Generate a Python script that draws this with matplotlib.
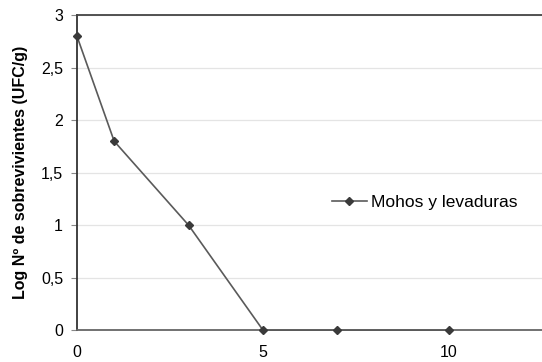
import matplotlib.pyplot as plt

plt.rcParams['font.family'] = ['Liberation Sans', 'DejaVu Sans']

dias = [0, 1, 3, 5, 7, 10]
log_sobrevivientes = [2.8, 1.8, 1.0, 0, 0, 0]
yticks = [0, 0.5, 1, 1.5, 2, 2.5, 3]
ytick_labels = ['0', '0,5', '1', '1,5', '2', '2,5', '3']
xticks = [0, 5, 10]

fig = plt.figure(figsize=(5.42, 3.62), dpi=100)
ax = fig.add_axes([0.142, 0.088, 0.858, 0.870])

ax.plot(dias, log_sobrevivientes, color='#5a5a5a', lw=1.2, marker='D',
        markersize=4.5, markerfacecolor='#3a3a3a', markeredgecolor='#3a3a3a',
        label='Mohos y levaduras', clip_on=False, zorder=3)

ax.set_xlim(0, 12.5)
ax.set_ylim(0, 3)
ax.set_yticks(yticks)
ax.set_yticklabels(ytick_labels)
ax.set_xticks(xticks)
ax.tick_params(axis='y', length=4, color='#888888', labelsize=11.5, pad=6)
ax.tick_params(axis='x', length=0, labelsize=11.5, pad=11)
ax.grid(axis='y', color='#e4e4e4', lw=0.9)
ax.set_axisbelow(True)

ax.spines['right'].set_visible(False)
ax.spines['left'].set_color('#333333')
ax.spines['left'].set_linewidth(1.3)
ax.spines['top'].set_color('#444444')
ax.spines['top'].set_linewidth(1.3)
ax.spines['bottom'].set_color('#666666')
ax.spines['bottom'].set_linewidth(1.3)

ax.set_ylabel('Log Nº de sobrevivientes (UFC/g)', fontsize=11.5, fontweight='bold', labelpad=9)

ax.legend(loc='center left', bbox_to_anchor=(0.515, 0.405), frameon=False,
          fontsize=12.5, handlelength=2.0, handletextpad=0.25)

fig.savefig('out.png', dpi=100)
